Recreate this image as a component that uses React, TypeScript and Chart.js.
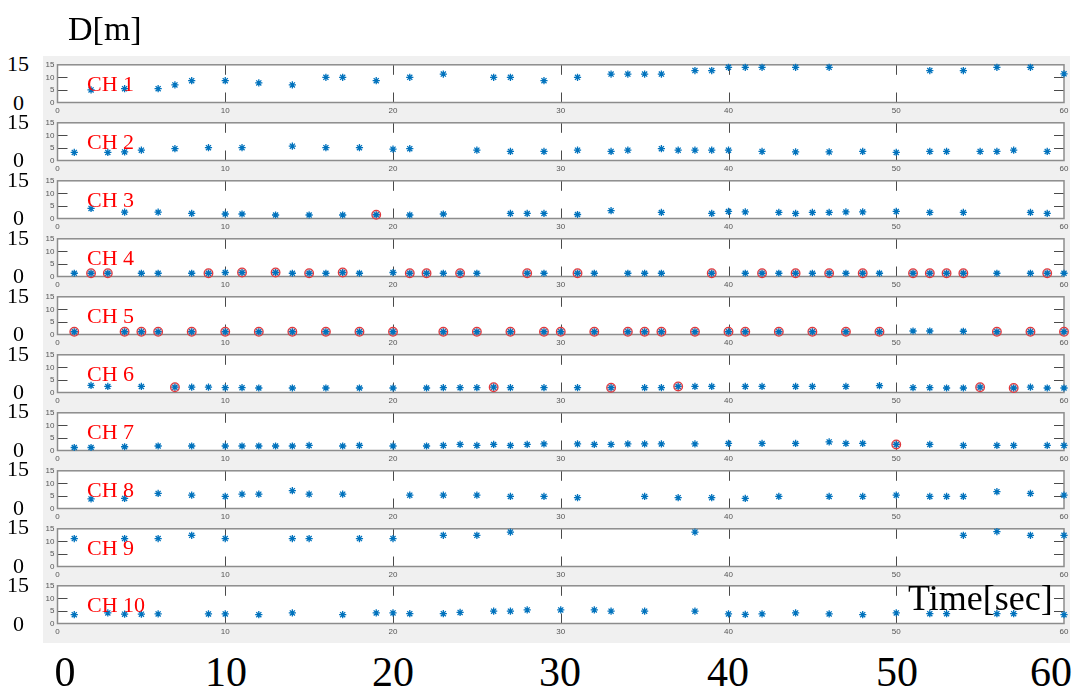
import React, { useEffect, useRef } from 'react';
import { Chart, registerables } from 'chart.js';

Chart.register(...registerables);

// ---------------- data ----------------
const channelNames = ['CH 1', 'CH 2', 'CH 3', 'CH 4', 'CH 5', 'CH 6', 'CH 7', 'CH 8', 'CH 9', 'CH 10'];
const xTickValues = [0, 10, 20, 30, 40, 50, 60];
const yTickValues = [0, 5, 10, 15];
const outerXLabels = ['0', '10', '20', '30', '40', '50', '60'];

const t1 = [2, 4, 6, 7, 8, 10, 12, 14, 16, 17, 19, 21, 23, 26, 27, 29, 31, 33, 34, 35, 36, 38, 39, 40, 41, 42, 44, 46, 52, 54, 56, 58, 60];
const d1 = [5, 5.5, 5.5, 7, 8.7, 8.7, 7.8, 7, 10, 10, 8.7, 10, 11.3, 10, 10, 8.7, 10, 11.3, 11.3, 11.3, 11.3, 12.7, 12.7, 14, 14, 14, 14, 14, 12.7, 12.7, 14, 14, 11.4];
const c1: number[] = [];

const t2 = [1, 3, 4, 5, 7, 9, 11, 14, 16, 18, 20, 21, 25, 27, 29, 31, 33, 34, 36, 37, 38, 39, 40, 42, 44, 46, 48, 50, 52, 53, 55, 56, 57, 59];
const d2 = [3.2, 3.2, 3.4, 4.1, 4.7, 5.1, 5.1, 5.7, 5.1, 5.1, 4.5, 4.7, 4.1, 3.6, 3.6, 4.1, 3.6, 4.1, 4.7, 4.1, 4.1, 4.1, 4.1, 3.6, 3.4, 3.4, 3.6, 3.2, 3.6, 3.6, 3.6, 3.6, 4.1, 3.6];
const c2: number[] = [];

const t3 = [2, 4, 6, 8, 10, 11, 13, 15, 17, 19, 21, 23, 27, 28, 29, 31, 33, 36, 39, 40, 41, 43, 44, 45, 46, 47, 48, 50, 52, 54, 58, 59];
const d3 = [4, 2.5, 2.5, 2, 1.8, 1.8, 1.4, 1.4, 1.4, 1.5, 1.4, 1.8, 2, 2, 2, 1.6, 3.1, 2.4, 2, 2.8, 2.6, 2.4, 2, 2.4, 2.4, 2.6, 2.6, 2.8, 2.4, 2.4, 2.4, 2];
const c3 = [19];

const t4 = [1, 2, 3, 5, 6, 8, 9, 10, 11, 13, 14, 15, 16, 17, 18, 20, 21, 22, 23, 24, 25, 28, 29, 31, 32, 34, 35, 36, 39, 41, 42, 43, 44, 45, 46, 47, 48, 49, 51, 52, 53, 54, 56, 58, 59, 60];
const d4 = [1.3, 1.3, 1.3, 1.3, 1.3, 1.3, 1.3, 1.6, 1.6, 1.6, 1.3, 1.3, 1.3, 1.6, 1.3, 1.6, 1.3, 1.3, 1.3, 1.3, 1.3, 1.3, 1.3, 1.3, 1.3, 1.3, 1.3, 1.3, 1.3, 1.3, 1.3, 1.3, 1.3, 1.3, 1.3, 1.3, 1.3, 1.3, 1.3, 1.3, 1.3, 1.3, 1.3, 1.3, 1.3, 1.3];
const c4 = [2, 3, 9, 11, 13, 15, 17, 21, 22, 24, 28, 31, 39, 42, 44, 46, 48, 51, 52, 53, 54, 59];

const t5 = [1, 4, 5, 6, 8, 10, 12, 14, 16, 18, 20, 23, 25, 27, 29, 30, 32, 34, 35, 36, 38, 40, 41, 43, 45, 47, 49, 51, 52, 54, 56, 58, 60];
const d5 = [1.1, 1.1, 1.1, 1.1, 1.1, 1.1, 1.1, 1.1, 1.1, 1.1, 1.1, 1.1, 1.1, 1.1, 1.1, 1.1, 1.1, 1.1, 1.1, 1.1, 1.1, 1.1, 1.1, 1.1, 1.1, 1.1, 1.1, 1.4, 1.4, 1.3, 1.1, 1.1, 1.1];
const c5 = [1, 4, 5, 6, 8, 10, 12, 14, 16, 18, 20, 23, 25, 27, 29, 30, 32, 34, 35, 36, 38, 40, 41, 43, 45, 47, 49, 56, 58, 60];

const t6 = [2, 3, 5, 7, 8, 9, 10, 11, 12, 14, 16, 18, 20, 22, 23, 24, 25, 26, 27, 29, 31, 33, 35, 36, 37, 38, 39, 41, 42, 44, 45, 47, 49, 51, 52, 53, 54, 55, 57, 58, 59, 60];
const d6 = [2.8, 2.4, 2.4, 2.1, 2.1, 2.1, 1.9, 1.9, 1.8, 1.8, 1.8, 1.8, 1.8, 1.8, 1.9, 1.9, 1.9, 2.1, 1.9, 1.9, 1.9, 1.9, 1.9, 1.9, 2.4, 2.4, 2.4, 2.4, 2.4, 2.4, 2.4, 2.4, 2.7, 1.9, 1.9, 1.8, 1.8, 2.1, 1.8, 2.1, 1.8, 1.8];
const c6 = [7, 26, 33, 37, 55, 57];

const t7 = [1, 2, 4, 6, 8, 10, 11, 12, 13, 14, 15, 17, 18, 20, 22, 23, 24, 25, 26, 27, 28, 29, 31, 32, 33, 34, 35, 36, 38, 40, 42, 44, 46, 47, 48, 50, 52, 54, 56, 57, 59, 60];
const d7 = [1.2, 1.2, 1.5, 1.8, 1.8, 1.8, 1.8, 1.8, 1.8, 1.8, 2, 1.8, 2, 1.8, 1.8, 2, 2.4, 2, 2.4, 2, 2.4, 2.6, 2.6, 2.4, 2.4, 2.6, 2.6, 2.6, 2.6, 2.8, 2.8, 2.8, 3.4, 2.8, 2.8, 2.4, 2.4, 2, 2, 2, 2, 2];
const c7 = [50];

const t8 = [2, 4, 6, 8, 10, 11, 12, 14, 15, 17, 21, 23, 25, 27, 29, 31, 35, 37, 39, 41, 43, 46, 48, 50, 52, 53, 54, 56, 58, 60];
const d8 = [3.8, 4, 6, 5.3, 4.8, 5.7, 5.7, 7.1, 5.7, 5.7, 5.3, 5.3, 5.3, 4.8, 4.8, 4.3, 4.8, 4.3, 4.3, 4, 4.8, 4.8, 4.8, 5.3, 4.8, 4.8, 4.8, 6.7, 6, 5.3];
const c8: number[] = [];

const t9 = [1, 4, 6, 8, 10, 14, 15, 18, 20, 23, 25, 27, 38, 54, 56, 58, 60];
const d9 = [11.1, 11.1, 11.1, 12.4, 11.1, 11.1, 11.1, 11.1, 11.1, 12.4, 12.4, 13.7, 13.7, 12.4, 13.9, 12.4, 12.4];
const c9: number[] = [];

const t10 = [1, 3, 4, 5, 6, 9, 10, 12, 14, 17, 19, 20, 21, 23, 24, 26, 27, 28, 30, 32, 33, 35, 38, 40, 41, 42, 44, 46, 48, 50, 52, 53, 56, 57, 60];
const d10 = [3.5, 4.2, 3.7, 3.7, 3.8, 3.8, 3.8, 3.5, 4.2, 3.5, 4.2, 4.2, 3.9, 3.9, 4.4, 4.9, 4.9, 5.4, 5.4, 5.4, 4.9, 4.9, 4.9, 3.8, 3.6, 3.8, 4.2, 3.8, 3.5, 4.2, 3.9, 3.9, 3.9, 3.9, 3.5];
const c10: number[] = [];

const channelTimes = [t1, t2, t3, t4, t5, t6, t7, t8, t9, t10];
const channelDists = [d1, d2, d3, d4, d5, d6, d7, d8, d9, d10];
const channelCircled = [c1, c2, c3, c4, c5, c6, c7, c8, c9, c10];

// ---------------- layout ----------------
const PANEL_TOP0 = 63.3;
const PANEL_STEP = 57.9;
const PANEL_H = 39.5;
const CANVAS_LEFT = 43;
const CANVAS_W = 1033;
const PAD_TOP = 6;
const PAD_RIGHT = 12;
const YAXIS_W = 14.5;
const XAXIS_H = 12.5;
const CANVAS_H = 58;
const outerXLabelPos = [65, 226, 393, 560, 728, 897, 1051];

const BLUE = '#0072BD';
const SERIF = '"Liberation Serif", "Times New Roman", serif';
const SANS = '"Liberation Sans", Arial, sans-serif';

const framePlugin = {
  id: 'matlabFrame',
  beforeDatasetsDraw(chart: any) {
    const { ctx, chartArea, scales } = chart;
    const { left, right, top, bottom } = chartArea;
    ctx.save();
    ctx.fillStyle = '#ffffff';
    ctx.fillRect(left, top, right - left, bottom - top);
    ctx.strokeStyle = '#4a4a4a';
    ctx.lineWidth = 1;
    ctx.beginPath();
    for (const v of xTickValues) {
      if (v === 0 || v === 60) continue;
      const px = Math.round(scales.x.getPixelForValue(v)) + 0.5;
      ctx.moveTo(px, bottom);
      ctx.lineTo(px, bottom - 10);
      ctx.moveTo(px, top);
      ctx.lineTo(px, top + 10);
    }
    for (const v of yTickValues) {
      if (v === 0 || v === 15) continue;
      const py = Math.round(scales.y.getPixelForValue(v)) + 0.5;
      ctx.moveTo(left, py);
      ctx.lineTo(left + 10, py);
      ctx.moveTo(right, py);
      ctx.lineTo(right - 10, py);
    }
    ctx.stroke();
    ctx.strokeStyle = '#8c8c8c';
    ctx.lineWidth = 1.5;
    ctx.strokeRect(left, top, right - left, bottom - top);
    ctx.restore();
  },
};

function Panel({ index }: { index: number }) {
  const ref = useRef<HTMLCanvasElement>(null);
  useEffect(() => {
    if (!ref.current) return;
    const ts = channelTimes[index];
    const ds = channelDists[index];
    const circ = channelCircled[index];
    const stars = ts.map((x, j) => ({ x, y: ds[j] }));
    const circles = ts
      .map((x, j) => ({ x, y: ds[j] }))
      .filter((p) => circ.includes(p.x));
    const chart = new Chart(ref.current, {
      type: 'scatter',
      data: {
        datasets: [
          {
            data: stars,
            pointStyle: 'star',
            pointRadius: 3.6,
            borderColor: BLUE,
            backgroundColor: BLUE,
            pointBorderWidth: 1.3,
            order: 0,
            clip: false as any,
          },
          {
            data: circles,
            pointStyle: 'circle',
            pointRadius: 4.3,
            borderColor: '#e0393e',
            backgroundColor: 'rgba(236,120,120,0.35)',
            pointBorderWidth: 1.3,
            order: 1,
            clip: false as any,
          },
        ],
      },
      options: {
        animation: false,
        responsive: false,
        devicePixelRatio: 1,
        events: [],
        layout: { padding: { top: PAD_TOP, right: PAD_RIGHT, left: 0, bottom: 0 } },
        plugins: { legend: { display: false }, tooltip: { enabled: false } },
        scales: {
          x: {
            type: 'linear',
            min: 0,
            max: 60,
            position: 'bottom',
            afterFit: (s: any) => {
              s.height = XAXIS_H;
            },
            grid: { display: false, drawTicks: false },
            border: { display: false },
            ticks: {
              stepSize: 10,
              autoSkip: false,
              maxRotation: 0,
              padding: 3,
              color: '#555555',
              font: { family: SANS, size: 8 },
            },
          },
          y: {
            type: 'linear',
            min: 0,
            max: 15,
            afterFit: (s: any) => {
              s.width = YAXIS_W;
            },
            grid: { display: false, drawTicks: false },
            border: { display: false },
            ticks: {
              stepSize: 5,
              autoSkip: false,
              padding: 3,
              color: '#555555',
              font: { family: SANS, size: 8 },
            },
          },
        },
      },
      plugins: [framePlugin],
    } as any);
    return () => chart.destroy();
  }, [index]);
  const panelTop = Math.round(PANEL_TOP0 + index * PANEL_STEP);
  return (
    <canvas
      ref={ref}
      width={CANVAS_W}
      height={CANVAS_H}
      style={{ position: 'absolute', left: CANVAS_LEFT, top: panelTop - PAD_TOP, width: CANVAS_W, height: CANVAS_H }}
    />
  );
}

function Txt({ x, y, fs, color = '#000', center = false, children }: any) {
  return (
    <div
      style={{
        position: 'absolute',
        left: x,
        top: y - fs / 2,
        fontSize: fs,
        lineHeight: fs + 'px',
        fontFamily: SERIF,
        color,
        whiteSpace: 'nowrap',
        transform: center ? 'translateX(-50%)' : undefined,
      }}
    >
      {children}
    </div>
  );
}

export default function App() {
  return (
    <div
      style={{
        position: 'fixed',
        left: 0,
        top: 0,
        width: 1076,
        height: 688,
        background: '#ffffff',
        overflow: 'hidden',
      }}
    >
      <div style={{ position: 'absolute', left: 43, top: 56, width: 1027, height: 587, background: '#f0f0f0' }} />
      {channelNames.map((_, i) => (
        <Panel key={i} index={i} />
      ))}
      {channelNames.map((name, i) => {
        const top = Math.round(PANEL_TOP0 + i * PANEL_STEP);
        return (
          <React.Fragment key={'l' + i}>
            <Txt x={18} y={64 + i * PANEL_STEP} fs={22} center>
              15
            </Txt>
            <Txt x={18.5} y={102.5 + i * PANEL_STEP} fs={22} center>
              0
            </Txt>
            <Txt x={87} y={top + 21} fs={22} color="#ff0000">
              {name}
            </Txt>
          </React.Fragment>
        );
      })}
      <Txt x={68} y={29} fs={34}>
        D[m]
      </Txt>
      <Txt x={908} y={598} fs={36}>
        Time[sec]
      </Txt>
      {outerXLabels.map((t, i) => (
        <Txt key={'x' + i} x={outerXLabelPos[i]} y={672} fs={42} center>
          {t}
        </Txt>
      ))}
    </div>
  );
}
